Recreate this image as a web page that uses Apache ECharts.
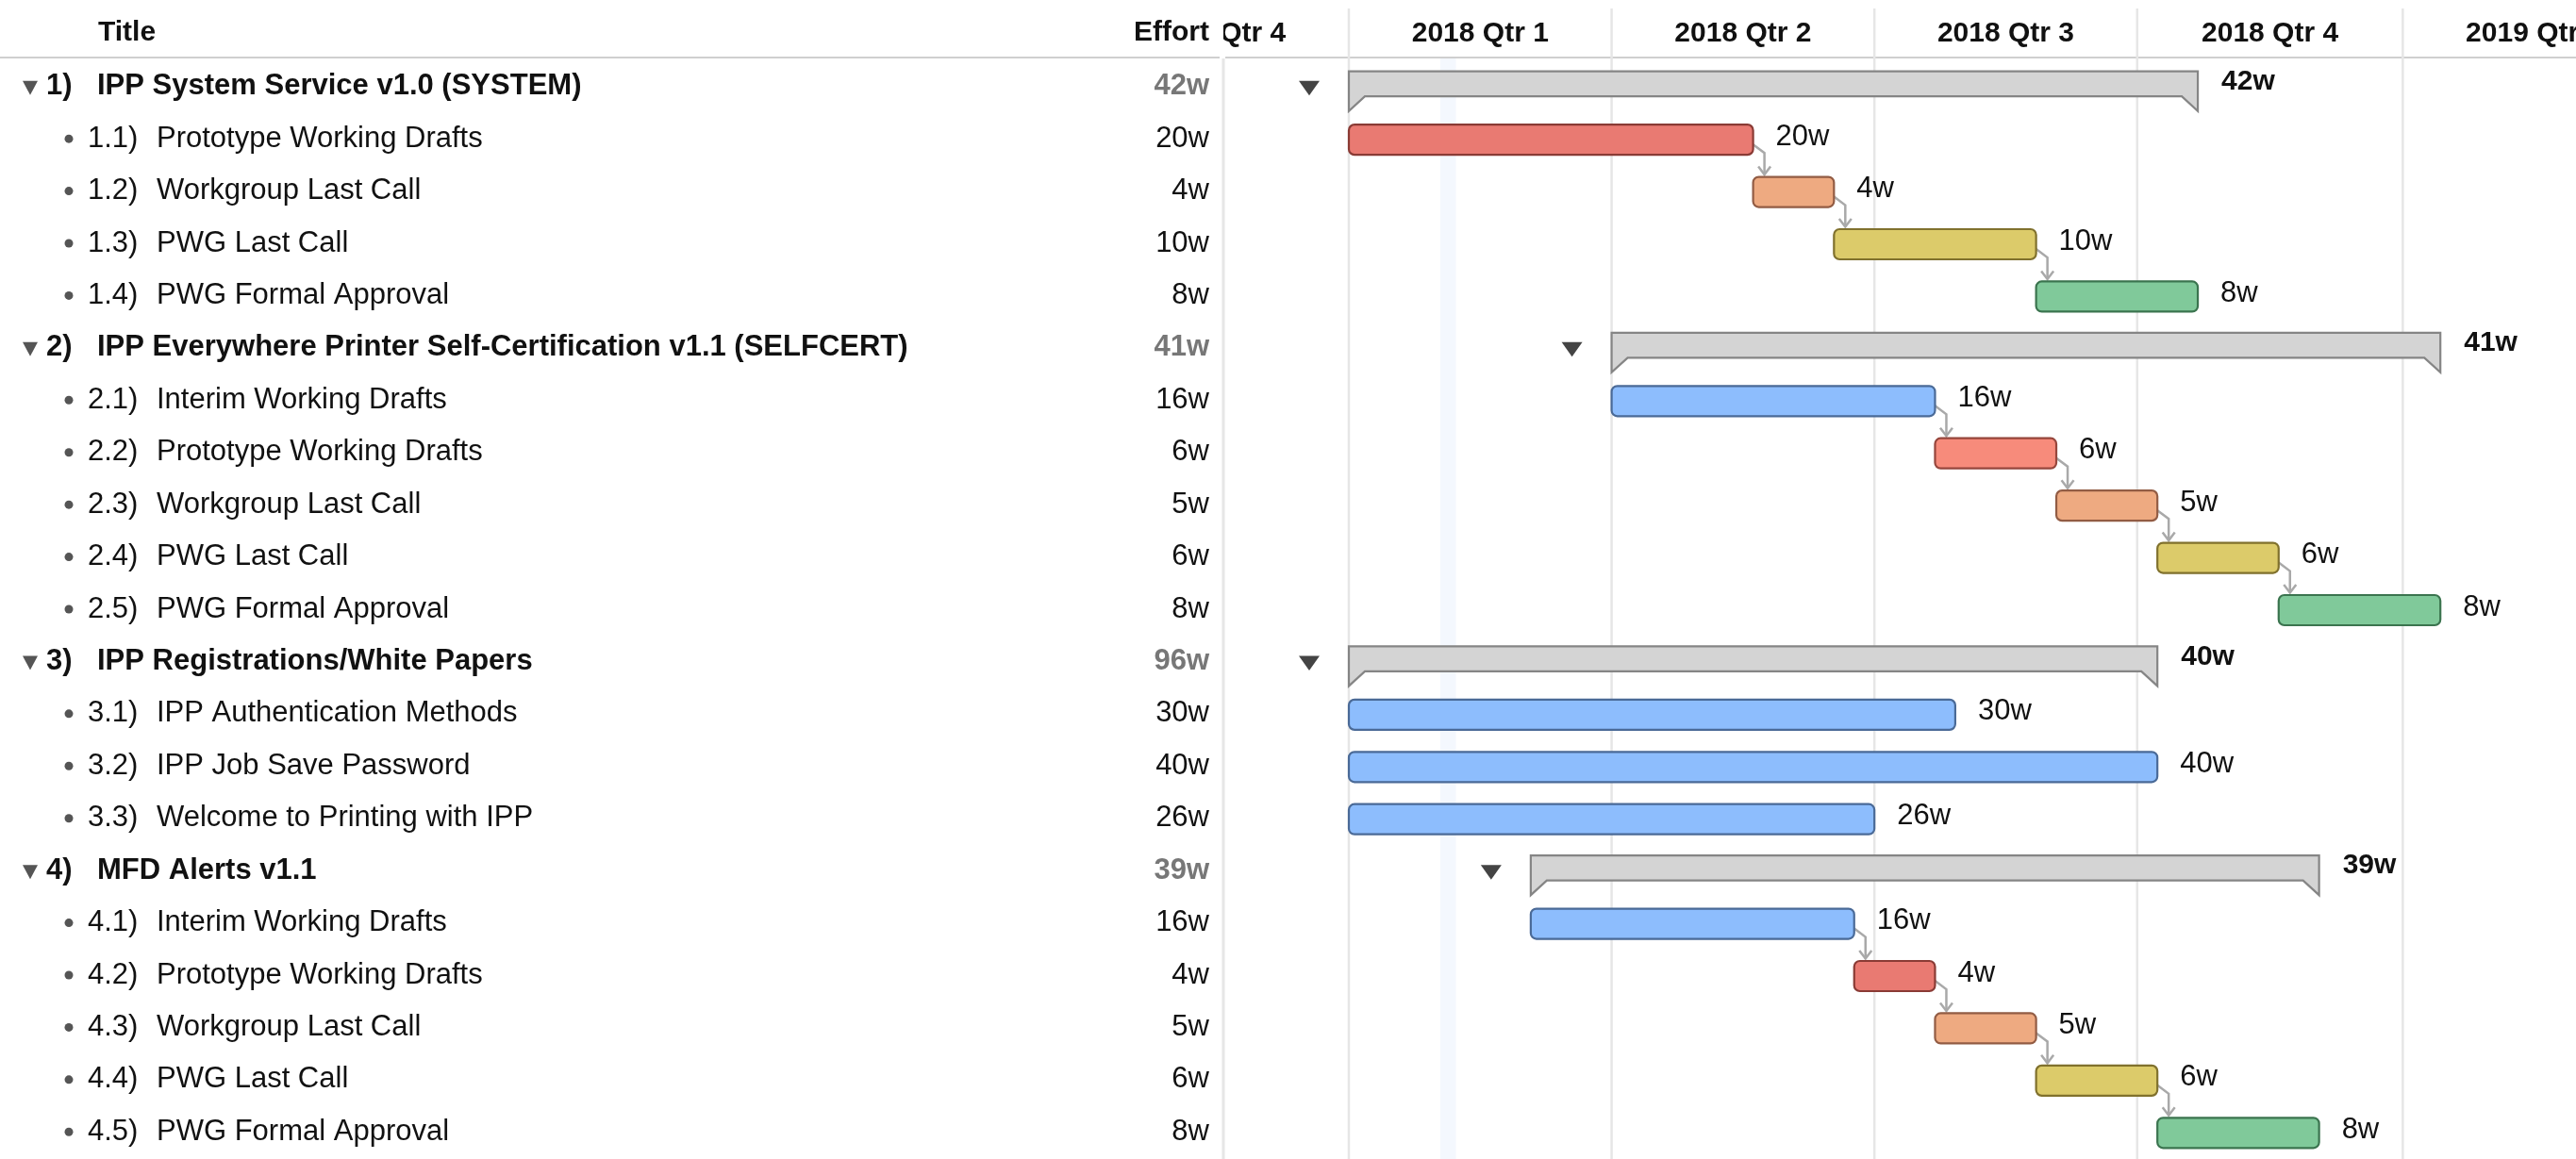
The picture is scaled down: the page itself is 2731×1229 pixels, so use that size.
<!DOCTYPE html>
<html><head><meta charset="utf-8">
<style>html,body{margin:0;padding:0;background:#fff;overflow:hidden}#c{width:2731px;height:1229px}</style>
<script src="https://cdn.jsdelivr.net/npm/echarts@6/dist/echarts.min.js"></script>
</head><body><div id="c"></div>
<script>
// ---------------- data ----------------
const rowIds = ['1)','1.1)','1.2)','1.3)','1.4)','2)','2.1)','2.2)','2.3)','2.4)','2.5)','3)','3.1)','3.2)','3.3)','4)','4.1)','4.2)','4.3)','4.4)','4.5)'];
const rowTitles = ['IPP System Service v1.0 (SYSTEM)','Prototype Working Drafts','Workgroup Last Call','PWG Last Call','PWG Formal Approval',
  'IPP Everywhere Printer Self-Certification v1.1 (SELFCERT)','Interim Working Drafts','Prototype Working Drafts','Workgroup Last Call','PWG Last Call','PWG Formal Approval',
  'IPP Registrations/White Papers','IPP Authentication Methods','IPP Job Save Password','Welcome to Printing with IPP',
  'MFD Alerts v1.1','Interim Working Drafts','Prototype Working Drafts','Workgroup Last Call','PWG Last Call','PWG Formal Approval'];
const rowIsGroup = [1,0,0,0,0, 1,0,0,0,0,0, 1,0,0,0, 1,0,0,0,0,0];
const effortWeeks = [42,20,4,10,8, 41,16,6,5,6,8, 96,30,40,26, 39,16,4,5,6,8];
const startWeek = [0,0,20,24,34, 13,13,29,35,40,46, 0,0,0,0, 9,9,25,29,34,40];
const durationWeeks = [42,20,4,10,8, 41,16,6,5,6,8, 40,30,40,26, 39,16,4,5,6,8];
const rowPhase = ['group','proto','wglc','pwglc','approve', 'group','interim','proto2','wglc','pwglc','approve',
  'group','doc','doc','doc', 'group','interim','proto','wglc','pwglc','approve'];
const dependencies = [[1,2],[2,3],[3,4],[6,7],[7,8],[8,9],[9,10],[16,17],[17,18],[18,19],[19,20]];
const quarterStartWeek = [-13,0,13,26,39,52.14,65.14];
const quarterLabels = ['2017 Qtr 4','2018 Qtr 1','2018 Qtr 2','2018 Qtr 3','2018 Qtr 4','2019 Qtr 1'];
const todayWeeks = [4.53, 5.3];

// ---------------- style ----------------
const FONT = '"Liberation Sans", Arial, Helvetica, sans-serif';
const FS_HEAD = 30;
const FS = 31;
const BAR_H = 32;
const phaseStyle = {
  proto:  {fill:'#e97a72', stroke:'#8a3b35'},
  proto2: {fill:'#f78b7b', stroke:'#96463c'},
  wglc:   {fill:'#eeaa81', stroke:'#925c44'},
  pwglc:  {fill:'#dccb6a', stroke:'#80712d'},
  approve:{fill:'#80c99a', stroke:'#3b744f'},
  interim:{fill:'#8dbdfd', stroke:'#4a6a97'},
  doc:    {fill:'#8dbdfd', stroke:'#4a6a97'},
  group:  {fill:'#d4d4d4', stroke:'#858585'}
};
function txt(x, y, s, weight, fill, align, size) {
  return {type:'text', style:{text:s, x:x, y:y, fill:fill, fontSize:size || FS, fontFamily:FONT, fontWeight:weight,
    align:align, textAlign:align, verticalAlign:'middle', textVerticalAlign:'middle'}};
}

const chart = echarts.init(document.getElementById('c'), null, {renderer:'canvas'});

const tableData = rowIds.map((_, i) => [0, i]);
const barData = rowIds.map((_, i) => [startWeek[i], startWeek[i] + durationWeeks[i], i, durationWeeks[i]]);
const depData = dependencies.map(([a, b]) => [startWeek[a] + durationWeeks[a], a, startWeek[b], b]);
const quarterData = quarterLabels.map((l, k) => [quarterStartWeek[k], quarterStartWeek[k + 1], 0]);

const option = {
  animation: false,
  backgroundColor: '#fff',
  grid: [
    {left: 0, top: 65, width: 1298, bottom: 0},
    {left: 1298, top: 65, right: 0, bottom: 0}
  ],
  xAxis: [
    {type:'value', gridIndex:0, min:0, max:1298, show:false, splitLine:{show:false}},
    {type:'value', gridIndex:1, min:-6.16, max:60.71, show:false, splitLine:{show:false}}
  ],
  yAxis: [
    {type:'category', gridIndex:0, data:rowIds, inverse:true, show:false},
    {type:'category', gridIndex:1, data:rowIds, inverse:true, show:false}
  ],
  series: [
    // today band
    {type:'custom', xAxisIndex:1, yAxisIndex:1, z:1, silent:true, data:[[todayWeeks[0], todayWeeks[1], 0]],
      encode:{x:[0,1], y:2},
      renderItem: function (params, api) {
        const x0 = api.coord([api.value(0), 0])[0];
        const x1 = api.coord([api.value(1), 0])[0];
        const cs = params.coordSys;
        return {type:'rect', shape:{x:x0, y:cs.y - 3, width:x1 - x0, height:cs.height + 3}, style:{fill:'#f4f8fe'}};
      }},
    // quarter grid lines + header labels
    {type:'custom', xAxisIndex:1, yAxisIndex:1, z:2, silent:true, clip:false, data:quarterData,
      encode:{x:[0,1], y:2},
      renderItem: function (params, api) {
        const x0 = api.coord([api.value(0), 0])[0];
        const x1 = api.coord([api.value(1), 0])[0];
        const cs = params.coordSys;
        const ch = [];
        if (x0 >= cs.x + 2) {
          ch.push({type:'line', shape:{x1:x0, y1:9, x2:x0, y2:cs.y + cs.height}, style:{stroke:'#e6e6e6', lineWidth:2.5}});
        }
        ch.push(txt((x0 + x1) / 2, 36, quarterLabels[params.dataIndex], 'bold', '#111', 'center', FS_HEAD));
        if (params.dataIndex === 0) {
          ch.push({type:'line', shape:{x1:cs.x + 1, y1:61, x2:cs.x + cs.width, y2:61}, style:{stroke:'#cfcfcf', lineWidth:2}});
        }
        return {type:'group', children:ch};
      }},
    // dependency arrows
    {type:'custom', xAxisIndex:1, yAxisIndex:1, z:3, silent:true, data:depData,
      encode:{x:[0,2], y:[1,3]},
      renderItem: function (params, api) {
        const a = api.coord([api.value(0), api.value(1)]);
        const b = api.coord([api.value(2), api.value(3)]);
        const xv = a[0] + 12;
        const yTip = b[1] - BAR_H / 2 - 2.5;
        const st = {stroke:'#a9a9a9', lineWidth:2.5, fill:null};
        return {type:'group', children:[
          {type:'polyline', shape:{points:[[a[0], a[1] + 5], [xv, a[1] + 14], [xv, yTip]]}, style:st},
          {type:'polyline', shape:{points:[[xv - 6.5, yTip - 8.5], [xv, yTip], [xv + 6.5, yTip - 8.5]]}, style:st}
        ]};
      }},
    // gantt bars
    {type:'custom', xAxisIndex:1, yAxisIndex:1, z:4, silent:true, clip:false, data:barData,
      encode:{x:[0,1], y:2},
      renderItem: function (params, api) {
        const i = api.value(2);
        const p0 = api.coord([api.value(0), i]);
        const p1 = api.coord([api.value(1), i]);
        const yc = p0[1], x0 = p0[0], x1 = p1[0];
        const ps = phaseStyle[rowPhase[i]];
        const label = api.value(3) + 'w';
        if (rowIsGroup[i]) {
          return {type:'group', children:[
            {type:'polygon', shape:{points:[[x0, yc - 17], [x1, yc - 17], [x1, yc + 25], [x1 - 17, yc + 9.5], [x0 + 17, yc + 9.5], [x0, yc + 25]]},
              style:{fill:ps.fill, stroke:ps.stroke, lineWidth:2.2}},
            {type:'polygon', shape:{points:[[x0 - 53, yc - 7], [x0 - 31, yc - 7], [x0 - 42, yc + 8.5]]}, style:{fill:'#444'}},
            txt(x1 + 25, yc - 6, label, 'bold', '#111', 'left', FS_HEAD)
          ]};
        }
        return {type:'group', children:[
          {type:'rect', shape:{x:x0, y:yc - BAR_H / 2, width:x1 - x0, height:BAR_H, r:6}, style:{fill:ps.fill, stroke:ps.stroke, lineWidth:2.2}},
          txt(x1 + 24, yc - 3, label, 'normal', '#111', 'left')
        ]};
      }},
    // table header (covers the clipped quarter label on the table side)
    {type:'custom', xAxisIndex:0, yAxisIndex:0, z:6, silent:true, clip:false, data:[[0,0]],
      renderItem: function (params, api) {
        const X = v => api.coord([v, 0])[0];
        const cs = params.coordSys;
        return {type:'group', children:[
          {type:'rect', shape:{x:0, y:0, width:X(1297), height:60}, style:{fill:'#fff'}},
          txt(X(104), 35, 'Title', 'bold', '#111', 'left', FS_HEAD),
          txt(X(1282), 35, 'Effort', 'bold', '#111', 'right', FS_HEAD),
          {type:'line', shape:{x1:0, y1:61, x2:X(1293), y2:61}, style:{stroke:'#cfcfcf', lineWidth:2}},
          {type:'line', shape:{x1:X(1297), y1:62, x2:X(1297), y2:cs.y + cs.height}, style:{stroke:'#e6e6e6', lineWidth:3}}
        ]};
      }},
    // table rows
    {type:'custom', xAxisIndex:0, yAxisIndex:0, z:6, silent:true, clip:false, data:tableData,
      renderItem: function (params, api) {
        const i = api.value(1);
        const yc = api.coord([0, i])[1];
        const X = v => api.coord([v, i])[0];
        const ty = yc - 1;
        if (rowIsGroup[i]) {
          return {type:'group', children:[
            {type:'polygon', shape:{points:[[X(24), yc - 7], [X(40), yc - 7], [X(32), yc + 8]]}, style:{fill:'#555'}},
            txt(X(49), ty, rowIds[i], 'bold', '#111', 'left'),
            txt(X(103), ty, rowTitles[i], 'bold', '#111', 'left'),
            txt(X(1282), ty, effortWeeks[i] + 'w', 'bold', '#777', 'right')
          ]};
        }
        return {type:'group', children:[
          {type:'circle', shape:{cx:X(73), cy:yc - 1, r:4.5}, style:{fill:'#555'}},
          txt(X(93), ty, rowIds[i], 'normal', '#111', 'left'),
          txt(X(166), ty, rowTitles[i], 'normal', '#111', 'left'),
          txt(X(1282), ty, effortWeeks[i] + 'w', 'normal', '#111', 'right')
        ]};
      }}
  ]
};
chart.setOption(option);
</script>
</body></html>
